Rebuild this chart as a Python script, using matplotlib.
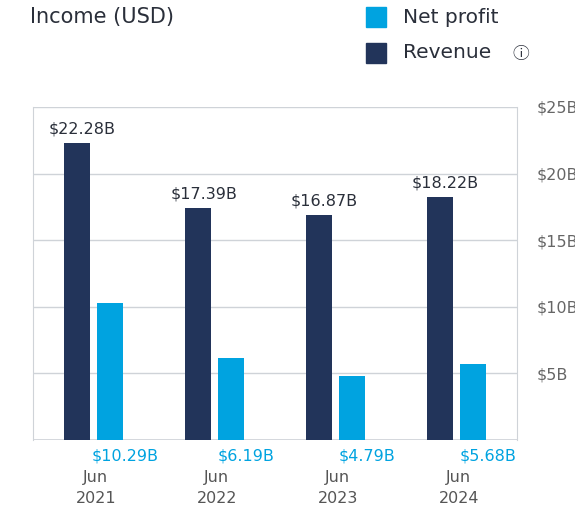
import matplotlib
matplotlib.use("Agg")
import matplotlib.pyplot as plt
import numpy as np
from matplotlib.patches import Rectangle

periods = ["Jun\n2021", "Jun\n2022", "Jun\n2023", "Jun\n2024"]
revenue = [22.28, 17.39, 16.87, 18.22]
net_profit = [10.29, 6.19, 4.79, 5.68]
ticks = [0, 5, 10, 15, 20, 25]
tick_labels = ["", "$5B", "$10B", "$15B", "$20B", "$25B"]

NAVY = "#22345a"
CYAN = "#00a3e0"
GRAY = "#555555"

fig = plt.figure(figsize=(5.75, 5.16), dpi=100)
ax = fig.add_axes([33/575, 1-440/516, 484/575, 333/516])
x = np.arange(len(periods))
w = 0.215
off = 0.14
ax.bar(x - off, revenue, w, color=NAVY, zorder=3)
ax.bar(x + off, net_profit, w, color=CYAN, zorder=3)
ax.set_xlim(-0.5, 3.5)
ax.set_ylim(0, 25)
ax.set_yticks(ticks)
ax.set_yticklabels(tick_labels)
ax.yaxis.tick_right()
ax.tick_params(axis="y", length=0, pad=14, labelsize=11.5, labelcolor="#666666")
ax.set_xticks([])
ax.grid(axis="y", color="#cfd3d8", lw=1, zorder=0)
for s in ["top", "bottom"]:
    ax.spines[s].set_visible(False)
ax.spines["left"].set_color("#cfd3d8")
ax.spines["right"].set_color("#cfd3d8")
ax.axhline(0, color="#cfd3d8", lw=1.2, zorder=2)

for i in range(len(periods)):
    ax.text(x[i] - off + 0.05, revenue[i] + 0.5, f"${revenue[i]:.2f}B", ha="center", va="bottom",
            fontsize=11.5, color="#2a2f3a")
    ax.text(x[i] + off + 0.12, -1.2, f"${net_profit[i]:.2f}B", ha="center", va="center",
            fontsize=11.5, color=CYAN)
    ax.text(x[i] + 0.02, -3.6, periods[i], ha="center", va="center", fontsize=11.5,
            color=GRAY, linespacing=1.5)

fig.text(30/575, 1-17/516, "Income (USD)", fontsize=15, color="#2a2f3a", va="center")
fig.patches.append(Rectangle((366/575, 1-27/516), 20/575, 20/516, color=CYAN, transform=fig.transFigure))
fig.text(403/575, 1-17/516, "Net profit", fontsize=14.5, color="#2a2f3a", va="center")
fig.patches.append(Rectangle((366/575, 1-63/516), 20/575, 20/516, color=NAVY, transform=fig.transFigure))
fig.text(403/575, 1-53/516, "Revenue", fontsize=14.5, color="#2a2f3a", va="center")
fig.text(512/575, 1-55/516, "ⓘ", fontsize=12, color="#2a2f3a", va="center",
         family=["Noto Sans CJK SC", "DejaVu Sans"])

fig.savefig("out.png", dpi=100)
